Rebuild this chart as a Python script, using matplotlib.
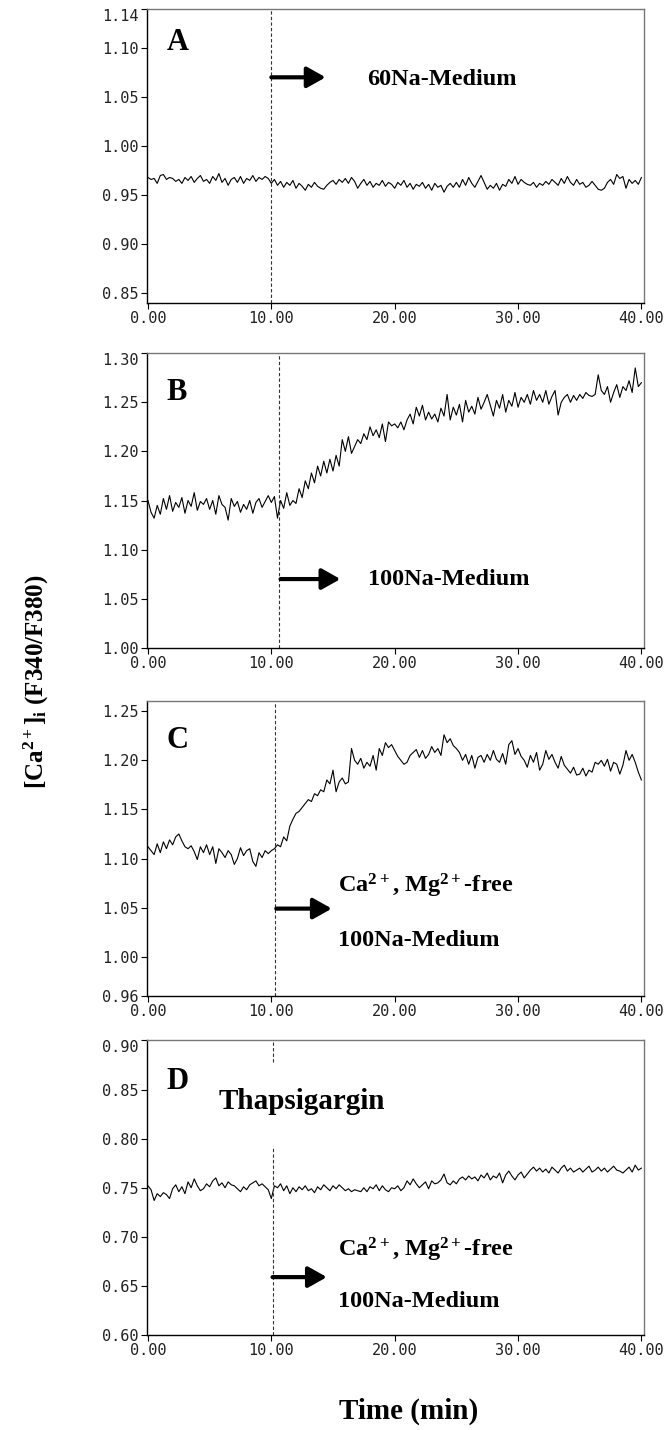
import numpy as np
import matplotlib
matplotlib.use("Agg")
import matplotlib.pyplot as plt

plt.rcParams['mathtext.fontset'] = 'custom'
plt.rcParams['mathtext.rm'] = 'Liberation Serif:bold'
plt.rcParams['mathtext.it'] = 'Liberation Serif:bold'
plt.rcParams['mathtext.bf'] = 'Liberation Serif:bold'
plt.rcParams['mathtext.default'] = 'rm'

# time axis, one reading every 0.25 min
time_min = np.arange(0, 40.001, 0.25)

# panel A: 60Na-Medium
ratio_a = [
    0.968, 0.966, 0.967, 0.962, 0.970, 0.971, 0.966, 0.968, 0.967, 0.964, 0.966, 0.962, 0.968, 0.965, 0.969, 0.963, 0.967, 0.970, 0.964, 0.966,
    0.962, 0.969, 0.965, 0.972, 0.963, 0.967, 0.960, 0.966, 0.968, 0.963, 0.969, 0.962, 0.967, 0.965, 0.970, 0.964, 0.968, 0.966, 0.969, 0.967,
    0.962, 0.966, 0.960, 0.964, 0.958, 0.963, 0.960, 0.965, 0.957, 0.962, 0.959, 0.955, 0.961, 0.958, 0.963, 0.959, 0.957, 0.956, 0.960, 0.963,
    0.965, 0.961, 0.966, 0.963, 0.967, 0.962, 0.968, 0.964, 0.957, 0.962, 0.966, 0.960, 0.964, 0.958, 0.962, 0.960, 0.965, 0.959, 0.963, 0.961,
    0.957, 0.963, 0.960, 0.965, 0.958, 0.962, 0.956, 0.961, 0.959, 0.963, 0.957, 0.961, 0.955, 0.962, 0.958, 0.960, 0.953, 0.959, 0.962, 0.958,
    0.963, 0.958, 0.966, 0.960, 0.968, 0.962, 0.958, 0.964, 0.970, 0.963, 0.956, 0.960, 0.957, 0.962, 0.955, 0.961, 0.959, 0.966, 0.962, 0.969,
    0.961, 0.966, 0.963, 0.961, 0.960, 0.963, 0.958, 0.962, 0.960, 0.964, 0.961, 0.966, 0.963, 0.960, 0.967, 0.962, 0.969, 0.963, 0.960, 0.966,
    0.961, 0.963, 0.958, 0.960, 0.964, 0.960, 0.956, 0.955, 0.957, 0.963, 0.966, 0.961, 0.971, 0.967, 0.969, 0.957, 0.966, 0.962, 0.965, 0.961,
    0.968,
]

# panel B: 100Na-Medium
ratio_b = [
    1.150, 1.138, 1.132, 1.145, 1.136, 1.152, 1.141, 1.155, 1.139, 1.148, 1.143, 1.153, 1.137, 1.150, 1.144, 1.158, 1.140, 1.149, 1.146, 1.152,
    1.141, 1.150, 1.136, 1.155, 1.146, 1.143, 1.130, 1.152, 1.144, 1.149, 1.138, 1.146, 1.141, 1.150, 1.137, 1.148, 1.152, 1.143, 1.149, 1.155,
    1.148, 1.154, 1.132, 1.150, 1.142, 1.158, 1.145, 1.150, 1.147, 1.162, 1.153, 1.170, 1.162, 1.178, 1.168, 1.185, 1.175, 1.190, 1.178, 1.192,
    1.180, 1.196, 1.185, 1.212, 1.200, 1.215, 1.198, 1.205, 1.212, 1.208, 1.218, 1.212, 1.225, 1.216, 1.222, 1.214, 1.228, 1.210, 1.230, 1.226,
    1.228, 1.224, 1.230, 1.222, 1.232, 1.238, 1.228, 1.245, 1.236, 1.247, 1.232, 1.240, 1.233, 1.238, 1.230, 1.244, 1.236, 1.258, 1.232, 1.245,
    1.237, 1.248, 1.230, 1.252, 1.240, 1.246, 1.238, 1.255, 1.243, 1.250, 1.258, 1.247, 1.236, 1.252, 1.244, 1.258, 1.240, 1.252, 1.246, 1.260,
    1.245, 1.255, 1.250, 1.258, 1.248, 1.262, 1.252, 1.258, 1.250, 1.262, 1.248, 1.256, 1.262, 1.237, 1.250, 1.255, 1.258, 1.250, 1.257, 1.252,
    1.258, 1.254, 1.260, 1.257, 1.256, 1.258, 1.278, 1.262, 1.258, 1.266, 1.250, 1.260, 1.268, 1.255, 1.266, 1.262, 1.272, 1.260, 1.285, 1.266,
    1.270,
]

# panel C: Ca2+, Mg2+-free 100Na-Medium
ratio_c = [
    1.112, 1.108, 1.104, 1.115, 1.106, 1.117, 1.110, 1.119, 1.114, 1.122, 1.125, 1.118, 1.112, 1.110, 1.113, 1.107, 1.099, 1.112, 1.106, 1.114,
    1.104, 1.112, 1.095, 1.110, 1.106, 1.101, 1.108, 1.104, 1.094, 1.100, 1.111, 1.103, 1.108, 1.110, 1.097, 1.092, 1.106, 1.101, 1.108, 1.105,
    1.108, 1.110, 1.114, 1.112, 1.122, 1.118, 1.133, 1.140, 1.146, 1.148, 1.152, 1.156, 1.160, 1.158, 1.166, 1.164, 1.170, 1.168, 1.180, 1.176,
    1.190, 1.168, 1.178, 1.182, 1.176, 1.178, 1.212, 1.200, 1.196, 1.202, 1.192, 1.198, 1.194, 1.205, 1.190, 1.212, 1.205, 1.218, 1.213, 1.216,
    1.210, 1.204, 1.200, 1.196, 1.198, 1.205, 1.208, 1.211, 1.203, 1.210, 1.202, 1.206, 1.214, 1.208, 1.212, 1.205, 1.226, 1.218, 1.222, 1.215,
    1.212, 1.208, 1.200, 1.206, 1.196, 1.205, 1.192, 1.203, 1.205, 1.198, 1.206, 1.200, 1.210, 1.201, 1.198, 1.207, 1.196, 1.216, 1.220, 1.206,
    1.212, 1.204, 1.200, 1.193, 1.205, 1.198, 1.208, 1.190, 1.196, 1.210, 1.201, 1.206, 1.198, 1.192, 1.204, 1.195, 1.191, 1.187, 1.193, 1.185,
    1.186, 1.192, 1.184, 1.190, 1.188, 1.198, 1.196, 1.200, 1.194, 1.201, 1.189, 1.198, 1.196, 1.186, 1.195, 1.210, 1.200, 1.206, 1.198, 1.188,
    1.180,
]

# panel D: thapsigargin, Ca2+, Mg2+-free 100Na-Medium
ratio_d = [
    0.752, 0.748, 0.737, 0.744, 0.741, 0.745, 0.743, 0.739, 0.749, 0.753, 0.746, 0.751, 0.744, 0.756, 0.750, 0.759, 0.752, 0.747, 0.749, 0.754,
    0.751, 0.757, 0.760, 0.752, 0.755, 0.750, 0.756, 0.753, 0.752, 0.749, 0.746, 0.751, 0.748, 0.753, 0.755, 0.757, 0.752, 0.754, 0.751, 0.748,
    0.739, 0.752, 0.750, 0.754, 0.747, 0.752, 0.744, 0.750, 0.746, 0.751, 0.748, 0.752, 0.747, 0.749, 0.745, 0.751, 0.748, 0.753, 0.750, 0.747,
    0.752, 0.749, 0.753, 0.750, 0.747, 0.749, 0.746, 0.748, 0.747, 0.746, 0.750, 0.746, 0.751, 0.749, 0.753, 0.747, 0.752, 0.748, 0.746, 0.750,
    0.749, 0.752, 0.747, 0.750, 0.757, 0.753, 0.759, 0.754, 0.750, 0.753, 0.756, 0.749, 0.757, 0.754, 0.755, 0.758, 0.764, 0.755, 0.753, 0.757,
    0.754, 0.759, 0.761, 0.758, 0.762, 0.759, 0.761, 0.757, 0.763, 0.760, 0.765, 0.758, 0.762, 0.760, 0.765, 0.755, 0.763, 0.767, 0.762, 0.758,
    0.763, 0.766, 0.760, 0.764, 0.768, 0.771, 0.767, 0.770, 0.766, 0.769, 0.765, 0.771, 0.768, 0.765, 0.770, 0.773, 0.767, 0.770, 0.766, 0.768,
    0.770, 0.766, 0.769, 0.772, 0.766, 0.768, 0.771, 0.767, 0.770, 0.766, 0.769, 0.772, 0.768, 0.767, 0.765, 0.768, 0.771, 0.766, 0.773, 0.768,
    0.770,
]

x_ticks = [0, 10, 20, 30, 40]
y_ticks_a = [0.85, 0.90, 0.95, 1.00, 1.05, 1.10, 1.14]
y_ticks_b = [1.00, 1.05, 1.10, 1.15, 1.20, 1.25, 1.30]
y_ticks_c = [0.96, 1.00, 1.05, 1.10, 1.15, 1.20, 1.25]
y_ticks_d = [0.60, 0.65, 0.70, 0.75, 0.80, 0.85, 0.90]

fig = plt.figure(figsize=(6.7, 14.3), dpi=100)

serif = ['Liberation Serif', 'DejaVu Serif']
tickfont = ['DejaVu Sans Mono']

panels = [
    # letter, data, ylim, yticks, axes bottom, dashed x
    ('A', ratio_a, (0.84, 1.14), y_ticks_a, 0.788, 10.0),
    ('B', ratio_b, (1.00, 1.30), y_ticks_b, 0.547, 10.6),
    ('C', ratio_c, (0.96, 1.26), y_ticks_c, 0.3035, 10.3),
    ('D', ratio_d, (0.60, 0.90), y_ticks_d, 0.0664, 10.1),
]

axes = []
for letter, vals, ylim, yt, bottom, xdash in panels:
    ax = fig.add_axes([0.219, bottom, 0.742, 0.206])
    ax.plot(time_min, vals, color='black', lw=0.8)
    ax.set_xlim(-0.1, 40.2)
    ax.set_ylim(*ylim)
    ax.set_xticks(x_ticks)
    ax.set_xticklabels(['%.2f' % t for t in x_ticks], family=tickfont, fontsize=11, color='#222222')
    ax.set_yticks(yt)
    ax.set_yticklabels(['%.2f' % v for v in yt], family=tickfont, fontsize=11, color='#222222')
    ax.tick_params(direction='out', length=4, width=0.8, pad=2)
    for s in ['top', 'right']:
        ax.spines[s].set_color('#777777')
        ax.spines[s].set_linewidth(1.0)
    for s in ['left', 'bottom']:
        ax.spines[s].set_color('black')
        ax.spines[s].set_linewidth(1.0)
    if letter != 'C':
        ax.yaxis.get_major_ticks()[-1].label1.set_va('top')
    if letter == 'D':
        # the line is broken where the Thapsigargin label sits
        ax.vlines(xdash, 0.8785, 0.90, colors='#333333', linestyles=(0, (3, 2)), lw=0.8)
        ax.vlines(xdash, 0.60, 0.7925, colors='#333333', linestyles=(0, (3, 2)), lw=0.8)
    else:
        ax.axvline(xdash, color='#333333', ls=(0, (3, 2)), lw=0.8)
    ax.text(0.04, {'A': 0.884, 'B': 0.867, 'C': 0.867, 'D': 0.86}[letter], letter,
            transform=ax.transAxes, family=serif, fontweight='bold', fontsize=22,
            ha='left', va='center')
    axes.append(ax)

ax_a, ax_b, ax_c, ax_d = axes
arrow = dict(arrowstyle='-|>,head_length=0.8,head_width=0.45', lw=3, color='black',
             mutation_scale=14, shrinkA=0, shrinkB=0)
lab = dict(family=serif, fontweight='bold', fontsize=17.5, ha='left', va='center')
free_label = 'Ca$^{2+}$, Mg$^{2+}$-free'

ax_a.annotate('', xy=(14.4, 1.070), xytext=(10.0, 1.070), arrowprops=arrow)
ax_a.text(17.8, 1.068, '60Na-Medium', **lab)

ax_b.annotate('', xy=(15.6, 1.070), xytext=(10.75, 1.070), arrowprops=arrow)
ax_b.text(17.8, 1.070, '100Na-Medium', **lab)

ax_c.annotate('', xy=(14.9, 1.049), xytext=(10.4, 1.049), arrowprops=arrow)
ax_c.text(15.4, 1.072, free_label, **lab)
ax_c.text(15.4, 1.017, '100Na-Medium', **lab)

ax_d.annotate('', xy=(14.5, 0.659), xytext=(10.1, 0.659), arrowprops=arrow)
ax_d.text(15.4, 0.687, free_label, **lab)
ax_d.text(15.4, 0.634, '100Na-Medium', **lab)
ax_d.text(5.7, 0.838, 'Thapsigargin', family=serif, fontweight='bold', fontsize=21,
          ha='left', va='center')

fig.text(0.054, 0.523, '[Ca$^{2+}$]$_{i}$ (F340/F380)', rotation=90, family=serif,
         fontweight='bold', fontsize=18, ha='center', va='center')
fig.text(0.61, 0.013, 'Time (min)', family=serif, fontweight='bold', fontsize=21,
         ha='center', va='center')

fig.savefig('out.png', dpi=100)
